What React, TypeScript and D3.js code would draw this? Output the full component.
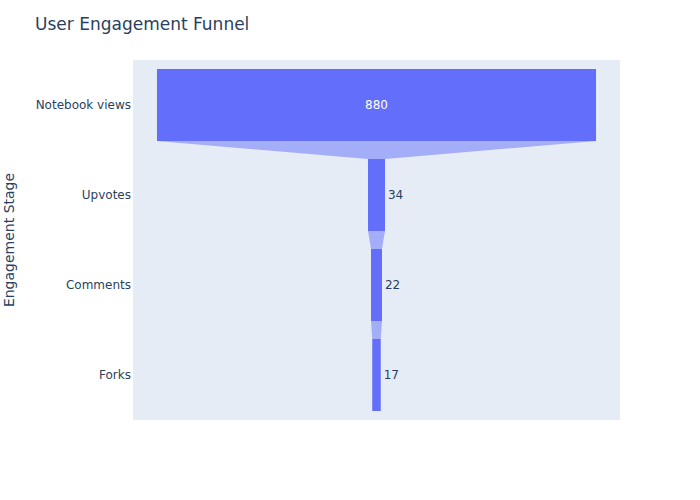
import React from "react";
import * as d3 from "d3";

const stages = ["Notebook views", "Upvotes", "Comments", "Forks"];
const values = [880, 34, 22, 17];
const chartTitle = "User Engagement Funnel";
const yTitle = "Engagement Stage";

export default function App() {
  const W = 700, H = 500;
  const left = 133, right = 620, top = 60, bottom = 420;
  const maxV = d3.max(values) as number;
  const half = maxV * 0.5546;
  const x = d3.scaleLinear().domain([-half, half]).range([left, right]);
  const y = d3.scaleBand<string>().domain(stages).range([top, bottom]).paddingInner(0.2).paddingOuter(0.1);
  const font = '"DejaVu Sans", Verdana, sans-serif';
  const txt = "#2a3f5f";
  const color = "#636efa";

  return (
    <svg width={W} height={H} style={{ position: "absolute", left: 0, top: 0, background: "#fff" }}>
      <rect x={left} y={top} width={right - left} height={bottom - top} fill="#e5ecf6" />
      {stages.slice(0, -1).map((s, i) => {
        const v0 = values[i], v1 = values[i + 1];
        const y0 = (y(s) as number) + y.bandwidth();
        const y1 = y(stages[i + 1]) as number;
        const pts = [
          [x(-v0 / 2), y0], [x(v0 / 2), y0], [x(v1 / 2), y1], [x(-v1 / 2), y1],
        ];
        return <polygon key={"c" + s} points={pts.map(p => p.join(",")).join(" ")} fill={color} fillOpacity={0.5} />;
      })}
      {stages.map((s, i) => {
        const v = values[i];
        const x0 = x(-v / 2), x1 = x(v / 2);
        const yy = y(s) as number;
        const cy = yy + y.bandwidth() / 2;
        const inside = x1 - x0 > 40;
        return (
          <g key={s}>
            <rect x={x0} y={yy} width={x1 - x0} height={y.bandwidth()} fill={color} />
            <text
              x={inside ? (x0 + x1) / 2 : x1 + 3}
              y={cy}
              dy="0.35em"
              textAnchor={inside ? "middle" : "start"}
              fill={inside ? "#ffffff" : txt}
              fontFamily={font}
              fontSize={12}
            >
              {v}
            </text>
            <text x={131} y={cy} dy="0.35em" textAnchor="end" fill={txt} fontFamily={font} fontSize={12}>
              {s}
            </text>
          </g>
        );
      })}
      <text x={35} y={30} fill={txt} fontFamily={font} fontSize={17}>{chartTitle}</text>
      <text transform={`translate(14,${(top + bottom) / 2}) rotate(-90)`} textAnchor="middle" fill={txt} fontFamily={font} fontSize={14}>
        {yTitle}
      </text>
    </svg>
  );
}
